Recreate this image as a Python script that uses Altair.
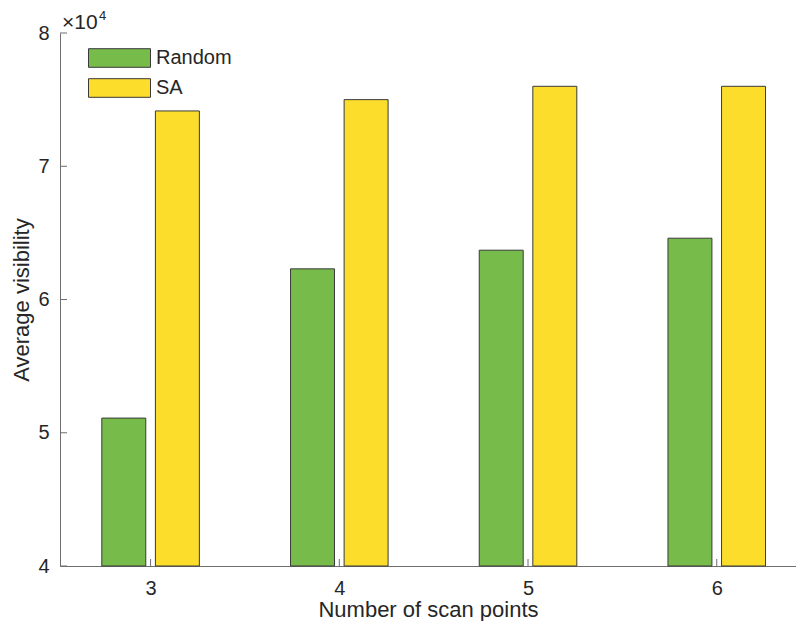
import altair as alt
import pandas as pd

scan_points = [3, 4, 5, 6]
random_vals = [51100, 62300, 63700, 64600]
sa_vals = [74150, 75000, 76000, 76000]
series_names = ["Random", "SA"]
series_colors = ["#77BB4B", "#FDDD2B"]
y_ticks = [40000, 50000, 60000, 70000, 80000]

rows = []
for s, r, a in zip(scan_points, random_vals, sa_vals):
    rows.append({"scan": s, "series": "Random", "value": r, "idx": 0})
    rows.append({"scan": s, "series": "SA", "value": a, "idx": 1})
df = pd.DataFrame(rows)

W, H = 736, 533
FONT = "Liberation Sans"
TXT = "#262626"
AX = "#6e6e6e"

xscale = alt.Scale(domain=[2.52, 6.42], nice=False, zero=False)
yscale = alt.Scale(domain=[40000, 80000], nice=False, zero=False)

sym = "M-1,-0.3H1V0.3H-1Z"

bars = alt.Chart(df).transform_calculate(
    x0="datum.scan + (datum.idx == 0 ? -0.142 : 0.142) - 0.1165",
    x1="datum.scan + (datum.idx == 0 ? -0.142 : 0.142) + 0.1165",
).mark_bar(stroke="#3a3a3a", strokeWidth=1).encode(
    x=alt.X("x0:Q", scale=xscale,
            axis=alt.Axis(values=scan_points, title="Number of scan points",
                          labelPadding=12, format="d",
                          titleBaseline="alphabetic", titleY=50)),
    x2="x1:Q",
    y=alt.Y("value:Q", scale=yscale,
            axis=alt.Axis(values=y_ticks, title="Average visibility",
                          labelExpr="datum.value / 10000", labelPadding=11,
                          titleBaseline="alphabetic", titleX=-32)),
    y2=alt.datum(40000),
    color=alt.Color("series:N",
                    scale=alt.Scale(domain=series_names, range=series_colors),
                    legend=alt.Legend(title=None, orient="none", legendX=28, legendY=11,
                                      padding=0, symbolType=sym, symbolSize=3844,
                                      symbolStrokeColor="#3a3a3a", symbolStrokeWidth=1,
                                      symbolOpacity=1, clipHeight=28,
                                      labelFontSize=20, labelFont=FONT, labelColor=TXT,
                                      labelOffset=5)),
)

ytick = alt.Chart(pd.DataFrame({"value": y_ticks})).mark_rule(color=AX, strokeWidth=1).encode(
    y=alt.Y("value:Q", scale=yscale),
    x=alt.value(0), x2=alt.value(7),
)
xtick = alt.Chart(pd.DataFrame({"x0": scan_points})).mark_rule(color=AX, strokeWidth=1).encode(
    x=alt.X("x0:Q", scale=xscale),
    y=alt.value(H), y2=alt.value(H - 7),
)

exp_base = alt.Chart(pd.DataFrame({"t": ["×10"]})).mark_text(
    align="left", baseline="alphabetic", fontSize=21, font=FONT, color=TXT
).encode(text="t:N", x=alt.value(2), y=alt.value(-4))
exp_pow = alt.Chart(pd.DataFrame({"t": ["4"]})).mark_text(
    align="left", baseline="alphabetic", fontSize=13, font=FONT, color=TXT
).encode(text="t:N", x=alt.value(39), y=alt.value(-13))

chart = alt.layer(bars, ytick, xtick, exp_base, exp_pow).properties(
    width=W, height=H, background="white",
    autosize=alt.AutoSizeParams(type="none"),
    padding={"left": 52, "top": 25, "right": 0, "bottom": 55},
).configure_view(strokeWidth=0, stroke="transparent").configure_axis(
    grid=False, ticks=False, domainColor=AX, domainWidth=1,
    labelFont=FONT, labelFontSize=20, labelColor=TXT,
    titleFont=FONT, titleFontSize=22, titleFontWeight="normal", titleColor=TXT,
)

chart.save("out.html", embed_options={"renderer": "svg", "actions": False})
